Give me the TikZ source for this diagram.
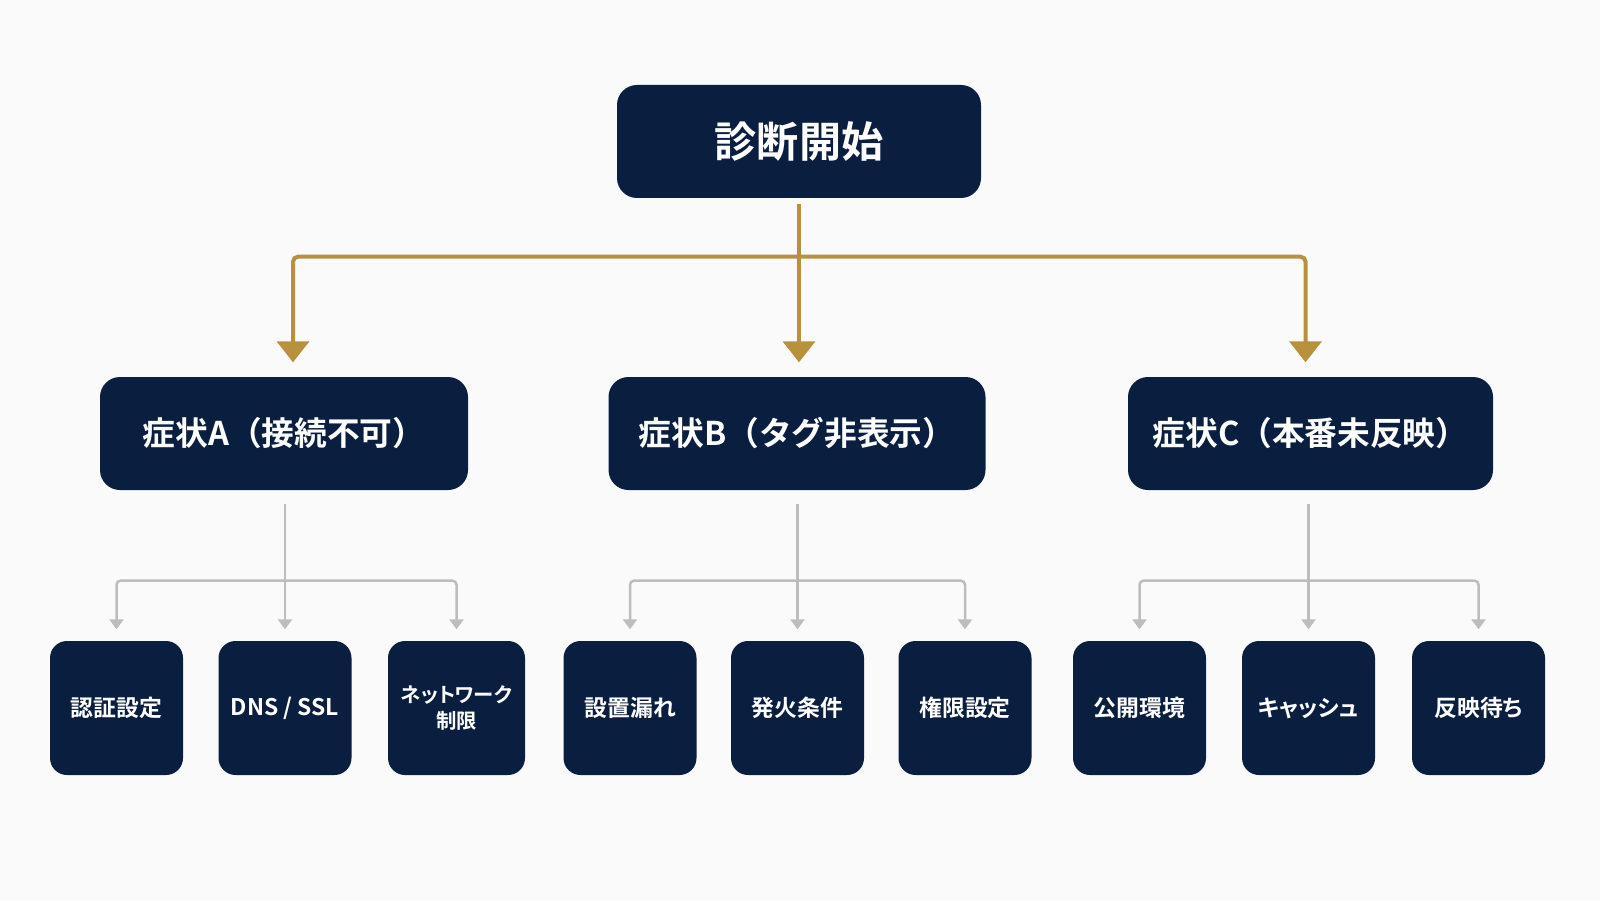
\documentclass[tikz,border=0pt]{standalone}
\usepackage{fontspec}
\setmainfont{Noto Sans CJK JP}[BoldFont={Noto Sans CJK JP Bold}]
\newfontfamily\leaffont{Noto Sans CJK JP}[BoldFont={Noto Sans CJK JP Bold}, RawFeature=+palt]
\usepackage{tikz}
\usetikzlibrary{arrows.meta,calc}
\definecolor{navy}{HTML}{0A1E3F}
\definecolor{gold}{HTML}{B8913F}
\definecolor{greyline}{HTML}{BDBDBD}
\definecolor{paper}{HTML}{FAFAFA}

\begin{document}
\begin{tikzpicture}[
    box/.style={fill=navy, rounded corners=0.2cm, text=white, font=\bfseries, align=center, inner sep=0pt},
    rootbox/.style={box, minimum width=3.64cm, minimum height=1.13cm, font=\fontsize{12}{14}\bfseries\selectfont},
    symbox/.style={box, minimum width=3.68cm, minimum height=1.13cm, font=\fontsize{9.3}{11}\bfseries\selectfont},
    leafbox/.style={box, rounded corners=0.17cm, minimum width=1.33cm, minimum height=1.34cm, font=\leaffont\fontsize{6.5}{7.6}\bfseries\selectfont},
    goldline/.style={draw=gold, line width=0.04cm, -{Triangle[width=0.32cm,length=0.21cm]}},
    greyline/.style={draw=greyline, line width=0.025cm, -{Triangle[width=0.14cm,length=0.1cm]}}
  ]
  \fill[paper] (0,0) rectangle (16,9);
  \useasboundingbox (0,0) rectangle (16,9);

  % top
  \node[rootbox] (start) at (7.99,7.585) {診断開始};

  % symptoms
  \node[symbox] (symA) at (2.84,4.665) {症状A（接続不可）};
  \node[symbox, minimum width=3.77cm] (symB) at (7.97,4.665) {症状B（タグ非表示）};
  \node[symbox, minimum width=3.65cm] (symC) at (13.105,4.665) {症状C（本番未反映）};

  % checks
  \node[leafbox] (a1) at (1.165,1.92) {認証設定};
  \node[leafbox] (a2) at (2.85,1.92) {DNS / SSL};
  \node[leafbox, minimum width=1.37cm, font=\leaffont\fontsize{5.8}{7.4}\bfseries\selectfont] (a3) at (4.565,1.92) {ネットワーク\\制限};
  \node[leafbox] (b1) at (6.30,1.92) {設置漏れ};
  \node[leafbox] (b2) at (7.975,1.92) {発火条件};
  \node[leafbox] (b3) at (9.65,1.92) {権限設定};
  \node[leafbox] (c1) at (11.395,1.92) {公開環境};
  \node[leafbox] (c2) at (13.085,1.92) {キャッシュ};
  \node[leafbox] (c3) at (14.785,1.92) {反映待ち};

  % gold branches
  \coordinate (hub) at ($(start.south)+(0,-0.58)$);
  \draw[draw=gold, line width=0.04cm] ([yshift=-0.05cm]start.south) -- (hub);
  \draw[goldline] (hub) -- ([yshift=0.14cm]symB.north -| hub);
  \draw[goldline, rounded corners=0.05cm] (hub) -| ([xshift=0.09cm,yshift=0.14cm]symA.north);
  \draw[goldline, rounded corners=0.05cm] (hub) -| ([xshift=-0.05cm,yshift=0.14cm]symC.north);

  % grey branches
  \foreach \s/\l/\m/\r in {symA/a1/a2/a3, symB/b1/b2/b3, symC/c1/c2/c3} {
    \coordinate (split) at ($(\m.north |- \s.south)+(0,-0.9)$);
    \draw[draw=greyline, line width=0.025cm] ([yshift=-0.13cm]\m.north |- \s.south) -- (split);
    \draw[greyline, rounded corners=0.04cm] (split) -| ([yshift=0.11cm]\l.north);
    \draw[greyline, rounded corners=0.04cm] (split) -| ([yshift=0.11cm]\r.north);
    \draw[greyline] (split) -- ([yshift=0.11cm]\m.north);
  }
\end{tikzpicture}
\end{document}
